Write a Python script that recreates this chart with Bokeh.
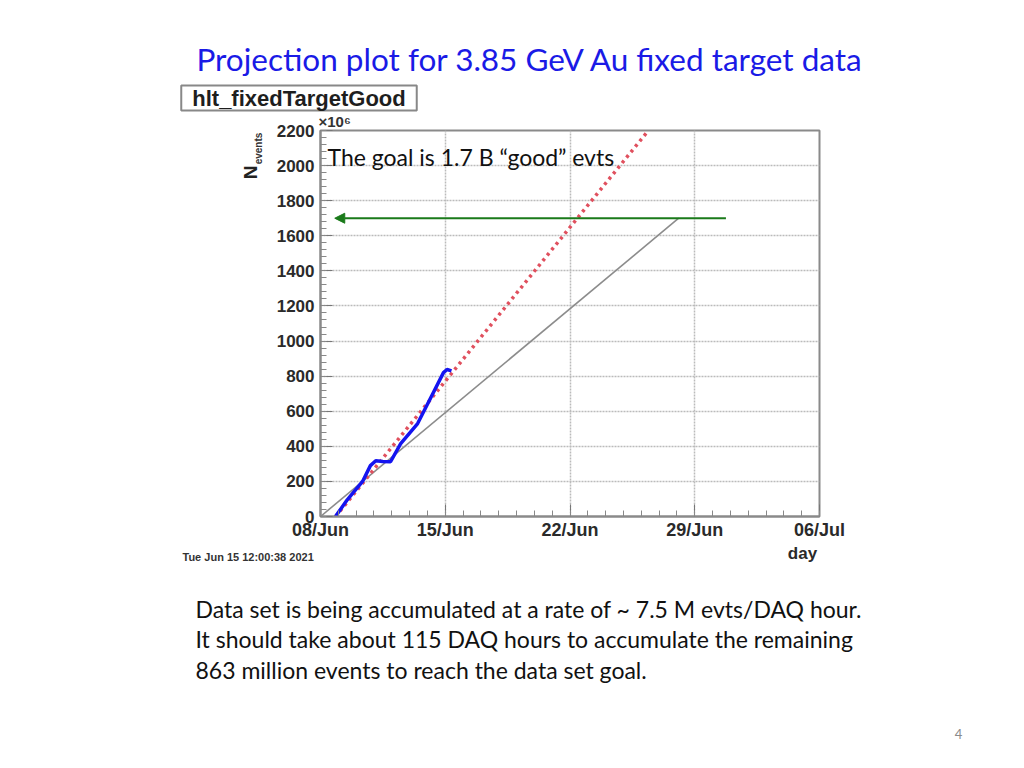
import numpy as np
from bokeh.plotting import figure
from bokeh.models import (Label, Arrow, NormalHead, FixedTicker, Range1d)
from bokeh.embed import file_html
from bokeh.resources import INLINE

# ---------------- data ----------------
x_tick_days = [0, 7, 14, 21, 28]
x_tick_labels = ["08/Jun", "15/Jun", "22/Jun", "29/Jun", "06/Jul"]
y_ticks = [0, 200, 400, 600, 800, 1000, 1200, 1400, 1600, 1800, 2000, 2200]

# accumulated good events (x10^6) vs days since 08/Jun
blue_day = [0.84, 1.5, 2.36, 2.8, 3.1, 3.5, 3.93, 4.5, 5.45, 6.2, 6.9, 7.1, 7.35]
blue_val = [0, 95, 200, 290, 318, 314, 312, 415, 530, 680, 820, 838, 830]

# projection at current rate (red dotted)
red_day = [0.85, 18.4]
red_val = [0, 2200]

# nominal projection (gray)
gray_day = [0.0, 20.1]
gray_val = [0, 1700]

# goal arrow
goal_val = 1700
arrow_start_day = 22.75
arrow_end_day = 0.8

title_text = "Projection plot for 3.85 GeV Au fixed target data"
note_text = "The goal is 1.7 B \u201cgood\u201d evts"
hist_name = "hlt_fixedTargetGood"
stamp_text = "Tue Jun 15 12:00:38 2021"
body_lines = [
    "Data set is being accumulated at a rate of ~ 7.5 M evts/DAQ hour.",
    "It should take about 115 DAQ hours to accumulate the remaining",
    "863 million events to reach the data set goal.",
]
page_number = "4"

W, H = 1016, 760
FL, FR, FT, FB = 320, 819, 130, 516   # frame box on the page
p = figure(width=W, height=H, output_backend="svg", toolbar_location=None,
           x_range=Range1d(0, 28), y_range=Range1d(0, 2200),
           min_border_left=FL, min_border_right=W - FR,
           min_border_top=FT, min_border_bottom=H - FB)
p.background_fill_color = "white"
p.border_fill_color = "white"
p.outline_line_color = "#8a8a8a"
p.outline_line_width = 2

# axes
p.xaxis.ticker = FixedTicker(ticks=x_tick_days, minor_ticks=list(range(0, 29)))
p.xaxis.major_label_overrides = {d: l for d, l in zip(x_tick_days, x_tick_labels)}
p.yaxis.ticker = FixedTicker(ticks=y_ticks, minor_ticks=list(range(0, 2201, 40)))
for ax in (p.xaxis[0], p.yaxis[0]):
    ax.axis_line_color = "#8a8a8a"
    ax.axis_line_width = 2
    ax.major_tick_in = 12
    ax.major_tick_out = 0
    ax.minor_tick_in = 6
    ax.minor_tick_out = 0
    ax.major_tick_line_color = "#777777"
    ax.minor_tick_line_color = "#888888"
    ax.major_label_text_font = "Liberation Sans"
    ax.major_label_text_font_style = "bold"
    ax.major_label_text_color = "#2a2a2a"
p.yaxis.major_label_text_font_size = "17px"
p.xaxis.major_label_text_font_size = "18px"
p.yaxis.major_label_standoff = 6
p.xaxis.major_label_standoff = 3

p.xgrid.grid_line_color = "#bbbbbb"
p.ygrid.grid_line_color = "#bbbbbb"
p.xgrid.grid_line_dash = "2 1"
p.ygrid.grid_line_dash = "2 1"
p.xgrid.grid_line_width = 1.5
p.ygrid.grid_line_width = 1.5

# lines
p.line(gray_day, gray_val, line_color="#8c8c8c", line_width=1.6)
p.line(red_day, red_val, line_color="#e0505e", line_width=3.5, line_dash="3 4")
p.line(blue_day, blue_val, line_color="#1414f0", line_width=3.5)

p.add_layout(Arrow(end=NormalHead(size=10, fill_color="#1a7a1a", line_color="#1a7a1a"),
                   x_start=arrow_start_day, y_start=goal_val,
                   x_end=arrow_end_day, y_end=goal_val,
                   line_color="#1a7a1a", line_width=2))


def lab(text, x, y, size, place="center", font="Lato", color="#111111", style="normal",
        align="left", baseline="alphabetic", angle=0, **kw):
    l = Label(x=x, y=y, x_units="canvas", y_units="canvas", text=text,
              text_font=font, text_font_size=size, text_color=color,
              text_font_style=style, text_align=align, text_baseline=baseline,
              angle=angle, **kw)
    p.add_layout(l, place)
    return l


# in-plot note (inside the frame)
lab(note_text, 327, 156, "23px")

# page title and ROOT header (top panel, not clipped to frame)
lab(title_text, 530, 58, "31.5px", place="above", color="#1a1ae6", align="center")
lab(hist_name, 298.5, 97.5, "22px", place="above", font="Liberation Sans", style="bold",
    color="#1e1e1e", align="center", baseline="middle", background_fill_color="white",
    border_line_color="#888888", border_line_width=2, padding=(11, 11, 0, 0))
lab("\u00d710\u2076", 318, 121, "15px", place="above", font="Liberation Sans",
    style="bold", color="#333333")

# y axis title (left panel)
lab("N", 250, 172, "19px", place="left", font="Liberation Sans", style="bold",
    color="#222222", align="center", baseline="middle", angle=np.pi / 2)
lab("events", 258, 148, "10px", place="left", font="Liberation Sans", style="bold",
    color="#333333", align="center", baseline="middle", angle=np.pi / 2)

# below the frame
lab("day", 802, 553, "17px", place="below", font="Liberation Sans", style="bold",
    color="#2a2a2a", align="center", baseline="middle")
lab(stamp_text, 182, 556, "11px", place="below", font="Liberation Sans", style="bold",
    color="#333333", baseline="middle")
for i, line in enumerate(body_lines):
    lab(line, 195, 608 + i * 30.5, "23px", place="below", color="#111111")
lab(page_number, 958, 733, "13px", place="below", color="#8a8a8a", align="center",
    baseline="middle")

open("out.html", "w").write(file_html(p, INLINE))
